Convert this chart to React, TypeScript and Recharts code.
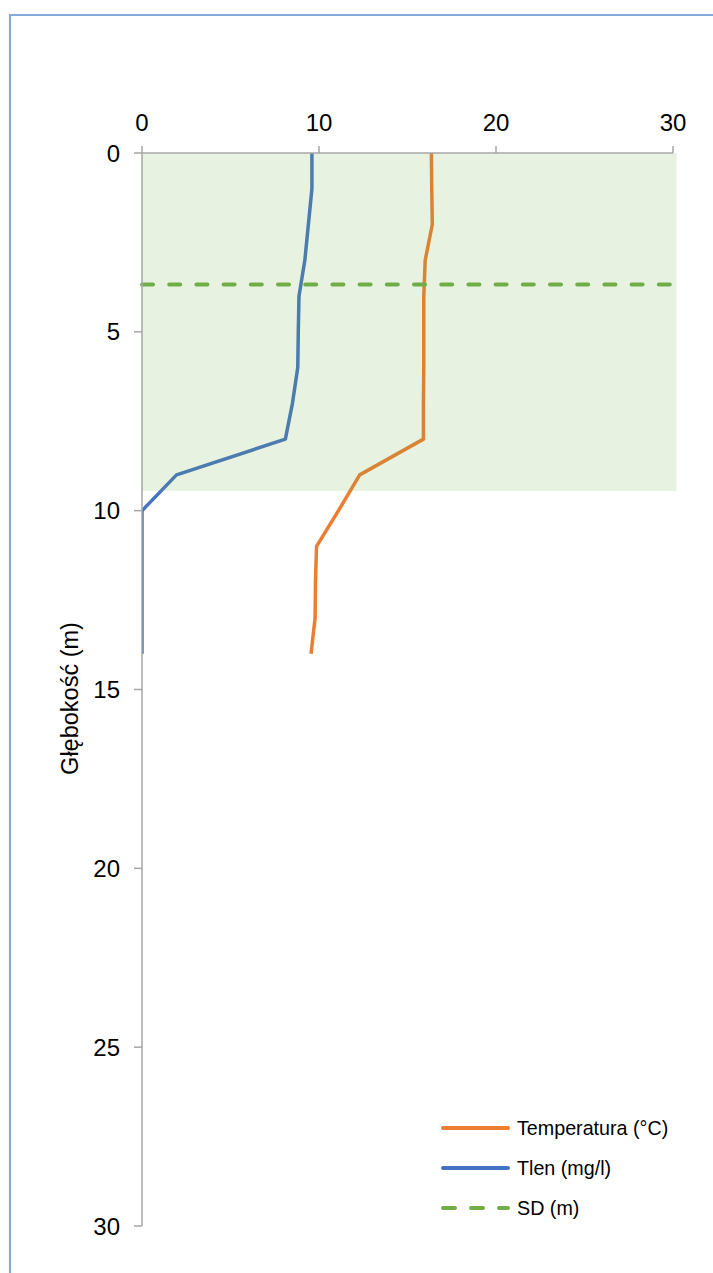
import React from "react";
import {
  ComposedChart,
  Line,
  XAxis,
  YAxis,
  ReferenceArea,
  ReferenceLine,
  Legend,
} from "recharts";

const depths = [0, 1, 2, 3, 4, 5, 6, 7, 8, 9, 10, 11, 12, 13, 14];
const temperature = [16.35, 16.37, 16.4, 16.0, 15.92, 15.92, 15.92, 15.9, 15.9, 12.3, 11.1, 9.86, 9.8, 9.78, 9.55];
const oxygen = [9.6, 9.6, 9.4, 9.2, 8.87, 8.83, 8.8, 8.5, 8.1, 1.95, 0, 0, 0, 0, 0];
const sdDepth = 3.68;
const shadedDepth = 9.45;
const xTicks = [0, 10, 20, 30];
const yTicks = [0, 5, 10, 15, 20, 25, 30];

const legendItems = [
  { label: "Temperatura (°C)", color: "#ED7D31", dashed: false },
  { label: "Tlen (mg/l)", color: "#4472C4", dashed: false },
  { label: "SD (m)", color: "#70AD47", dashed: true },
];

const data = depths.map((d, i) => ({
  depth: d,
  temp: temperature[i],
  oxy: oxygen[i],
}));

const FONT = '"Liberation Sans", Arial, sans-serif';

const LegendContent = () => (
  <svg width={270} height={120}>
    {legendItems.map((it, i) => {
      const y = 20 + i * 40;
      return (
        <g key={it.label}>
          <line
            x1={7}
            x2={72}
            y1={y}
            y2={y}
            stroke={it.color}
            strokeWidth={4}
            strokeLinecap="round"
            strokeDasharray={it.dashed ? "12 16" : undefined}
          />
          <text
            x={81}
            y={y}
            dy="0.36em"
            fontFamily={FONT}
            fontSize={19.7}
            fill="#000"
          >
            {it.label}
          </text>
        </g>
      );
    })}
  </svg>
);

const YLabel = (props: any) => {
  const vb = props.viewBox || {};
  const cx = 70;
  const cy = (vb.y ?? 153) + (vb.height ?? 1073) / 2 + 9;
  return (
    <text
      x={cx}
      y={cy}
      transform={`rotate(-90 ${cx} ${cy})`}
      textAnchor="middle"
      dominantBaseline="central"
      fontFamily={FONT}
      fontSize={23.5}
      fill="#000"
    >
      Głębokość (m)
    </text>
  );
};

export default function App() {
  return (
    <div
      style={{
        position: "fixed",
        left: 0,
        top: 0,
        width: 713,
        height: 1273,
        overflow: "hidden",
        background: "#fff",
      }}
    >
      <div
        style={{
          position: "absolute",
          left: 9,
          top: 14,
          width: 800,
          height: 1400,
          border: "2px solid #86A9DB",
          boxSizing: "border-box",
        }}
      />
      <div style={{ position: "absolute", left: 0, top: 0 }}>
        <ComposedChart
          width={713}
          height={1273}
          data={data}
          layout="vertical"
          margin={{ top: 0, left: 0, right: 40, bottom: 47 }}
        >
          <XAxis
            type="number"
            orientation="top"
            domain={[0, 30]}
            ticks={xTicks}
            height={153}
            tickSize={7}
            tickMargin={15}
            axisLine={{ stroke: "#A6A6A6", strokeWidth: 1.5 }}
            tickLine={{ stroke: "#A6A6A6", strokeWidth: 1.5 }}
            tick={{ fontFamily: FONT, fontSize: 24, fill: "#000" }}
            allowDataOverflow
          />
          <YAxis
            type="number"
            dataKey="depth"
            domain={[0, 30]}
            ticks={yTicks}
            width={142}
            tickSize={8}
            tickMargin={14}
            axisLine={{ stroke: "#A6A6A6", strokeWidth: 1.5 }}
            tickLine={{ stroke: "#A6A6A6", strokeWidth: 1.5 }}
            tick={{ fontFamily: FONT, fontSize: 24, fill: "#000" }}
            label={<YLabel />}
            allowDataOverflow
          />
          <Line
            dataKey="temp"
            stroke="#ED7D31"
            strokeWidth={3.5}
            dot={false}
            isAnimationActive={false}
            strokeLinejoin="round"
          />
          <Line
            dataKey="oxy"
            stroke="#4472C4"
            strokeWidth={3.5}
            dot={false}
            isAnimationActive={false}
            strokeLinejoin="round"
          />
          <ReferenceArea
            x1={0}
            x2={30.2}
            y1={0}
            y2={shadedDepth}
            fill="#70AD47"
            fillOpacity={0.16}
            stroke="none"
            ifOverflow="visible"
            {...({ zIndex: 450 } as any)}
          />
          <ReferenceLine
            y={sdDepth}
            stroke="#70AD47"
            strokeWidth={4}
            strokeDasharray="11 16.2"
            strokeLinecap="round"
            {...({ zIndex: 460 } as any)}
          />
          <Legend
            layout="vertical"
            align="center"
            verticalAlign="middle"
            content={<LegendContent />}
            wrapperStyle={{ left: 436, top: 1108, width: 270, height: 120 }}
          />
        </ComposedChart>
      </div>
    </div>
  );
}
